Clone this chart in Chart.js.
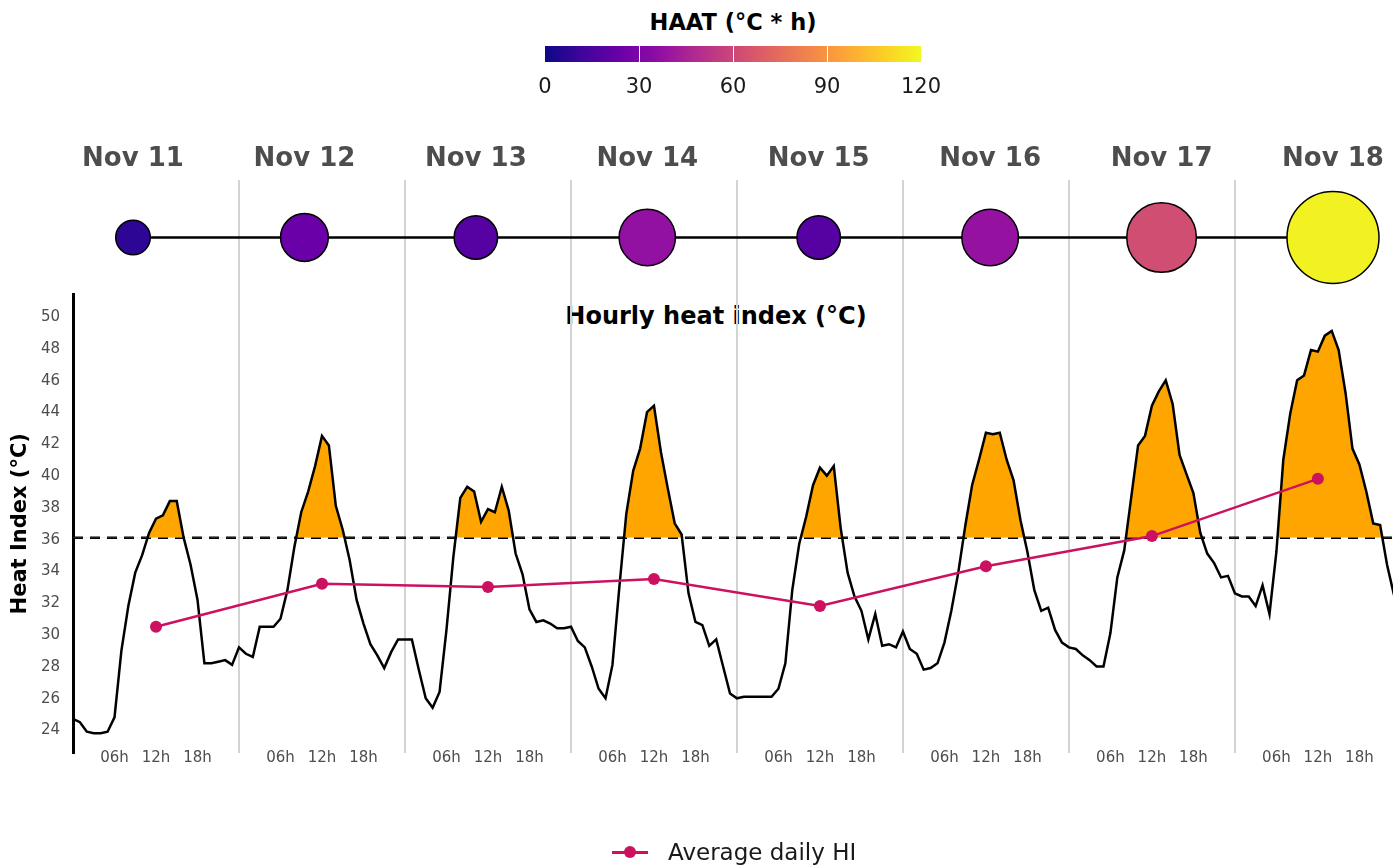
<!DOCTYPE html>
<html>
<head>
<meta charset="utf-8">
<script src="https://cdn.jsdelivr.net/npm/chart.js@4.4.1/dist/chart.umd.min.js"></script>
<style>
  html, body { margin: 0; padding: 0; background: #fff; }
  body { width: 1393px; height: 867px; position: relative; overflow: hidden; font-family: "DejaVu Sans", sans-serif; }
  #mainChart { position: absolute; left: 0; top: 0; }
  #bubbleChart { position: absolute; left: 73px; top: 120px; }
  .abs { position: absolute; white-space: nowrap; }
  #cbTitle { left: 733px; top: 22px; transform: translate(-50%, -50%); font-weight: bold; font-size: 22.5px; color: #000; }
  #cbBar { left: 545px; top: 46px; width: 376px; height: 16px; }
  .cbSep { position: absolute; top: 0; width: 1px; height: 100%; background: #fff; }
  .cbLabel { top: 86px; transform: translate(-50%, -50%); font-size: 21px; color: #1a1a1a; }
  #plotTitle { left: 716px; top: 316px; transform: translate(-50%, -50%); font-weight: bold; font-size: 24px; color: #000; }
  #legend { left: 612px; top: 852px; transform: translateY(-50%); display: flex; align-items: center; }
  .lgKey { position: relative; width: 36px; height: 14px; display: inline-block; }
  .lgLine { position: absolute; left: 0; top: 6px; width: 36px; height: 2.5px; background: #CC1160; }
  .lgDot { position: absolute; left: 12px; top: 1px; width: 12px; height: 12px; border-radius: 50%; background: #CC1160; }
  .lgText { margin-left: 20px; font-size: 23px; color: #1a1a1a; }
</style>
</head>
<body>
<div id="cbTitle" class="abs">HAAT (°C * h)</div>
<div id="cbBar" class="abs"></div>
<div id="plotTitle" class="abs">Hourly heat index (°C)</div>
<canvas id="mainChart" width="1393" height="867"></canvas>
<canvas id="bubbleChart" width="1320" height="175"></canvas>
<div id="legend" class="abs"><span class="lgKey"><span class="lgLine"></span><span class="lgDot"></span></span><span class="lgText" id="lgText"></span></div>

<script>
// === Datos ===
const days = ['Nov 11', 'Nov 12', 'Nov 13', 'Nov 14', 'Nov 15', 'Nov 16', 'Nov 17', 'Nov 18'];
const hourTickLabels = { 6: '06h', 12: '12h', 18: '18h' };
const yTicks = [24, 26, 28, 30, 32, 34, 36, 38, 40, 42, 44, 46, 48, 50];
const colorbarTicks = [0, 30, 60, 90, 120];
const threshold = 36;

// heat index por hora, desde Nov 11 00h
const heatIndex = [
  24.6, 24.4, 23.8, 23.7, 23.7, 23.8, 24.7, 28.9, 31.7, 33.8, 34.9, 36.3, 37.2, 37.4, 38.3, 38.3, 36.0, 34.3, 32.1, 28.1, 28.1, 28.2, 28.3, 28.0,
  29.1, 28.7, 28.5, 30.4, 30.4, 30.4, 30.9, 32.7, 35.4, 37.6, 38.9, 40.5, 42.4, 41.8, 38.0, 36.5, 34.6, 32.1, 30.6, 29.3, 28.6, 27.8, 28.8, 29.6,
  29.6, 29.6, 27.7, 25.9, 25.3, 26.3, 30.2, 34.8, 38.5, 39.2, 38.9, 37.0, 37.8, 37.6, 39.2, 37.7, 35.0, 33.7, 31.5, 30.7, 30.8, 30.6, 30.3, 30.3,
  30.4, 29.5, 29.1, 27.9, 26.5, 25.9, 28.0, 32.9, 37.5, 40.2, 41.6, 43.9, 44.3, 41.4, 39.1, 36.9, 36.2, 32.5, 30.7, 30.5, 29.2, 29.6, 27.9, 26.2,
  25.9, 26.0, 26.0, 26.0, 26.0, 26.0, 26.5, 28.1, 32.7, 35.6, 37.3, 39.3, 40.4, 39.9, 40.5, 36.6, 33.8, 32.3, 31.4, 29.6, 31.2, 29.2, 29.3, 29.1,
  30.1, 29.0, 28.7, 27.7, 27.8, 28.1, 29.4, 31.4, 33.8, 36.7, 39.3, 40.9, 42.6, 42.5, 42.6, 40.9, 39.6, 37.1, 35.1, 32.7, 31.4, 31.6, 30.2, 29.4,
  29.1, 29.0, 28.6, 28.3, 27.9, 27.9, 30.0, 33.5, 35.2, 38.5, 41.8, 42.4, 44.3, 45.2, 45.9, 44.4, 41.2, 40.0, 38.8, 36.3, 35.0, 34.4, 33.5, 33.6,
  32.5, 32.3, 32.3, 31.7, 33.0, 31.2, 35.1, 40.9, 43.8, 45.9, 46.2, 47.8, 47.7, 48.7, 49.0, 47.8, 45.1, 41.6, 40.6, 38.9, 36.9, 36.8, 34.3, 32.4
];
const averageHI = [30.4, 33.1, 32.9, 33.4, 31.7, 34.2, 36.1, 39.7];
const haat = [7.5, 24, 18, 37.5, 18, 38, 63, 118];

// === Estilos ===
const crimson = '#CC1160';
const tickGray = '#4d4d4d';
const sepGray = '#d3d3d3';
const xMax = 190.86;
const plasmaStops = ['#0d0887', '#41049d', '#6a00a8', '#8f0da4', '#b12a90', '#cc4778', '#e16462', '#f2844b', '#fca636', '#fcce25', '#f0f921'];
const haatMax = 120;

const hexToRgb = h => [1, 3, 5].map(i => parseInt(h.substr(i, 2), 16));
const plasma = t => {
    t = Math.max(0, Math.min(1, t));
    const p = t * (plasmaStops.length - 1);
    const i = Math.min(Math.floor(p), plasmaStops.length - 2);
    const f = p - i;
    const a = hexToRgb(plasmaStops[i]), b = hexToRgb(plasmaStops[i + 1]);
    const c = a.map((v, k) => Math.round(v + (b[k] - v) * f));
    return `rgb(${c[0]}, ${c[1]}, ${c[2]})`;
};

// tamaño del circulo: area lineal con el valor
const rMin = 17.3, rMax = 46;
const hMin = Math.min(...haat), hMax = Math.max(...haat);
const sizeScale = v => Math.sqrt(rMin * rMin + (rMax * rMax - rMin * rMin) * (v - hMin) / (hMax - hMin));

// === Barra de color ===
const cbBar = document.getElementById('cbBar');
cbBar.style.background = `linear-gradient(to right, ${plasmaStops.join(', ')})`;
colorbarTicks.forEach(t => {
    const frac = t / haatMax;
    if (t > 0 && t < haatMax) {
        const sep = document.createElement('div');
        sep.className = 'cbSep';
        sep.style.left = (frac * 376) + 'px';
        cbBar.appendChild(sep);
    }
    const lab = document.createElement('div');
    lab.className = 'abs cbLabel';
    lab.style.left = (545 + frac * 376) + 'px';
    lab.textContent = t;
    document.body.appendChild(lab);
});

// === Grafico principal ===
const mainChart = new Chart(document.getElementById('mainChart'), {
    type: 'line',
    data: {
        datasets: [
            {
                label: 'Average daily HI',
                data: averageHI.map((v, i) => ({ x: i * 24 + 12, y: v })),
                borderColor: crimson,
                backgroundColor: crimson,
                borderWidth: 2.5,
                pointRadius: 6,
                pointBorderWidth: 0,
                order: 0
            },
            {
                label: 'Hourly heat index',
                data: heatIndex.map((v, i) => ({ x: i, y: v })),
                borderColor: '#000',
                borderWidth: 2.5,
                pointRadius: 0,
                tension: 0,
                fill: { target: { value: threshold }, above: '#FFA500', below: 'rgba(0,0,0,0)' },
                order: 1
            },
            {
                label: 'Threshold',
                data: [{ x: 0, y: threshold }, { x: xMax, y: threshold }],
                borderColor: '#000',
                borderWidth: 2.5,
                borderDash: [10, 7],
                pointRadius: 0,
                order: 2
            }
        ]
    },
    options: {
        responsive: false,
        animation: false,
        layout: { autoPadding: false, padding: { top: 294.5, left: 0, right: 0, bottom: 0 } },
        plugins: { legend: { display: false }, tooltip: { enabled: false } },
        scales: {
            x: {
                type: 'linear',
                min: 0,
                max: xMax,
                afterBuildTicks: s => {
                    const t = [];
                    for (let h = 0; h <= xMax; h += 6) t.push({ value: h });
                    s.ticks = t;
                },
                ticks: {
                    autoSkip: false,
                    maxRotation: 0,
                    padding: -4,
                    color: tickGray,
                    font: { family: 'DejaVu Sans', size: 15 },
                    callback: v => hourTickLabels[v % 24] || ''
                },
                grid: {
                    drawTicks: false,
                    lineWidth: 2,
                    color: ctx => (ctx.tick && ctx.tick.value % 24 === 0 && ctx.tick.value > 0) ? sepGray : 'rgba(0,0,0,0)'
                },
                border: { display: false },
                afterFit: s => {
                    s.height = 114;
                    // las etiquetas montan un poco sobre el area, no recortar
                    s._computeLabelArea = () => null;
                }
            },
            y: {
                min: 22.46,
                max: 51.29,
                afterBuildTicks: s => { s.ticks = yTicks.map(v => ({ value: v })); },
                ticks: { color: tickGray, font: { family: 'DejaVu Sans', size: 15 }, padding: 13, labelOffset: 2 },
                grid: { display: false, drawTicks: false },
                border: { display: true, color: '#000', width: 3 },
                title: {
                    display: true,
                    text: 'Heat Index (°C)',
                    color: '#000',
                    font: { family: 'DejaVu Sans', size: 21, weight: 'bold' },
                    padding: { top: 8, bottom: 0 }
                },
                afterFit: s => { s.width = 73; }
            }
        }
    }
});

document.getElementById('lgText').textContent = mainChart.data.datasets[0].label;

// === Fila de burbujas (HAAT por dia) ===
new Chart(document.getElementById('bubbleChart'), {
    type: 'bubble',
    data: {
        datasets: [
            {
                label: 'HAAT',
                data: haat.map((v, i) => ({ x: i, y: 0, r: sizeScale(v) })),
                backgroundColor: haat.map(v => plasma(v / haatMax)),
                borderColor: '#000',
                borderWidth: 1.5,
                order: 0
            },
            {
                type: 'line',
                label: 'link',
                data: days.map((d, i) => ({ x: i, y: 0 })),
                borderColor: '#000',
                borderWidth: 2.5,
                pointRadius: 0,
                order: 1
            }
        ]
    },
    options: {
        responsive: false,
        animation: false,
        layout: { autoPadding: false, padding: 0 },
        plugins: { legend: { display: false }, tooltip: { enabled: false } },
        scales: {
            x: {
                type: 'linear',
                position: 'top',
                min: -0.35,
                max: 7.35,
                afterBuildTicks: s => { s.ticks = days.map((d, i) => ({ value: i })); },
                ticks: {
                    autoSkip: false,
                    maxRotation: 0,
                    padding: 5,
                    color: tickGray,
                    font: { family: 'DejaVu Sans', size: 26, weight: 'bold' },
                    callback: v => days[v]
                },
                grid: { display: false, drawTicks: false },
                border: { display: false },
                afterFit: s => {
                    s.height = 60;
                    s.paddingLeft = 0;
                    s.paddingRight = 0;
                }
            },
            xh: {
                type: 'linear',
                position: 'bottom',
                min: 0,
                max: xMax,
                afterBuildTicks: s => {
                    const t = [];
                    for (let h = 24; h < xMax; h += 24) t.push({ value: h });
                    s.ticks = t;
                },
                ticks: { display: false },
                grid: { drawTicks: false, lineWidth: 2, color: sepGray },
                border: { display: false },
                afterFit: s => { s.height = 0; }
            },
            y: { display: false, min: -1, max: 1 }
        }
    }
});
</script>
</body>
</html>
